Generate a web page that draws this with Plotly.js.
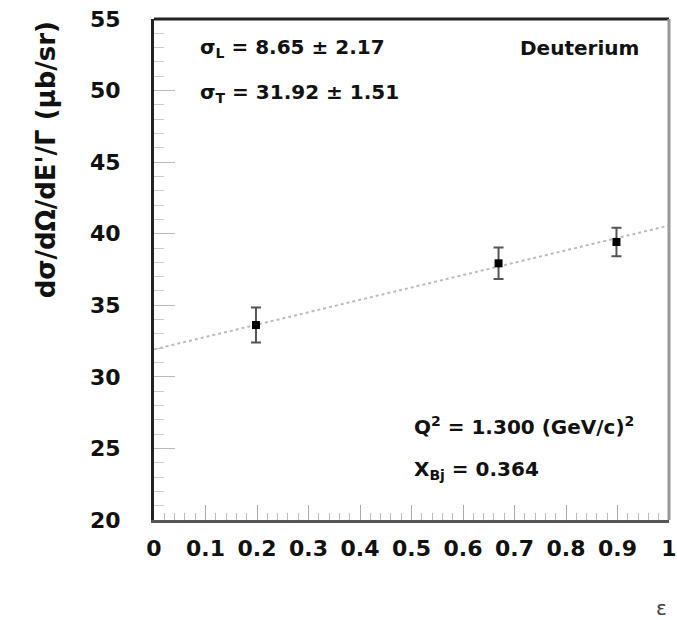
<!DOCTYPE html>
<html>
<head>
<meta charset="utf-8">
<script src="https://cdn.plot.ly/plotly-3.0.1.min.js"></script>
<style>html,body{margin:0;padding:0;background:#fff;}#chart{width:677px;height:620px;}</style>
</head>
<body>
<div id="chart"></div>
<script>
// Data
const epsilon = [0.198, 0.669, 0.898];
const sigmaRed = [33.62, 37.93, 39.42];
const sigmaErr = [1.22, 1.10, 0.99];
const fitX = [0, 1];
const fitY = [31.92, 40.57];
const xTickVals = [0, 0.1, 0.2, 0.3, 0.4, 0.5, 0.6, 0.7, 0.8, 0.9, 1];
const xTickText = ["0", "0.1", "0.2", "0.3", "0.4", "0.5", "0.6", "0.7", "0.8", "0.9", "1"];
const yTickVals = [20, 25, 30, 35, 40, 45, 50, 55];

const FONT = "DejaVu Sans, Liberation Sans, Arial, sans-serif";

const traces = [
  {
    x: fitX, y: fitY, mode: "lines", type: "scatter",
    line: {color: "#bbbbbb", width: 2, dash: "dot"},
    hoverinfo: "skip", showlegend: false
  },
  {
    x: epsilon, y: sigmaRed, mode: "markers", type: "scatter",
    marker: {symbol: "square", size: 8, color: "#000"},
    error_y: {type: "data", array: sigmaErr, visible: true, color: "#555", thickness: 2, width: 5},
    showlegend: false
  }
];

const tickFont = {family: FONT, size: 22, color: "#111", weight: "bold"};
const textFont = {family: FONT, size: 20, color: "#111", weight: "bold"};

const layout = {
  width: 677, height: 620,
  margin: {l: 154, r: 8, t: 19, b: 100},
  paper_bgcolor: "#fff", plot_bgcolor: "#fff",
  showlegend: false,
  xaxis: {
    range: [0, 1], tickvals: xTickVals, ticktext: xTickText,
    ticks: "inside", ticklen: 15, tickcolor: "#aaa", tickwidth: 1,
    minor: {dtick: 0.02, ticks: "inside", ticklen: 7, tickcolor: "#bbb", tickwidth: 1},
    showgrid: false, zeroline: false,
    showline: true, linecolor: "#555", linewidth: 3,
    tickfont: tickFont, ticklabelstandoff: 7
  },
  yaxis: {
    range: [20, 55], tickvals: yTickVals,
    ticks: "inside", ticklen: 21, tickcolor: "#bbb", tickwidth: 1,
    minor: {dtick: 1, ticks: "inside", ticklen: 10, tickcolor: "#ccc", tickwidth: 1},
    showgrid: false, zeroline: false,
    showline: true, linecolor: "#222", linewidth: 3,
    tickfont: tickFont, ticklabelstandoff: 26
  },
  shapes: [
    {type: "line", xref: "paper", yref: "paper", x0: 0, x1: 1, y0: 1, y1: 1, line: {color: "#222", width: 3}},
    {type: "line", xref: "paper", yref: "paper", x0: 1, x1: 1, y0: 0, y1: 1, line: {color: "#999", width: 3}}
  ],
  annotations: [
    {xref: "paper", yref: "paper", x: -0.21, y: 1.0, xanchor: "center", yanchor: "top",
     text: "dσ/dΩ/dE'/Γ (μb/sr)", textangle: -90, showarrow: false,
     font: {family: FONT, size: 26, color: "#111", weight: "bold"}},
    {xref: "x", yref: "y", x: 0.085, y: 53.0, xanchor: "left", yanchor: "middle",
     text: "σ<sub>L</sub> = 8.65 ± 2.17", showarrow: false, font: textFont},
    {xref: "x", yref: "y", x: 0.085, y: 49.8, xanchor: "left", yanchor: "middle",
     text: "σ<sub>T</sub> = 31.92 ± 1.51", showarrow: false, font: textFont},
    {xref: "x", yref: "y", x: 0.945, y: 53.0, xanchor: "right", yanchor: "middle",
     text: "Deuterium", showarrow: false, font: textFont},
    {xref: "x", yref: "y", x: 0.50, y: 26.6, xanchor: "left", yanchor: "middle",
     text: "Q<sup>2</sup> = 1.300 (GeV/c)<sup>2</sup>", showarrow: false, font: textFont},
    {xref: "x", yref: "y", x: 0.50, y: 23.5, xanchor: "left", yanchor: "middle",
     text: "X<sub>Bj</sub> = 0.364", showarrow: false, font: textFont},
    {xref: "paper", yref: "paper", x: 0.985, y: -0.175, xanchor: "center", yanchor: "middle",
     text: "ε", showarrow: false, font: {family: FONT, size: 20, color: "#444"}}
  ]
};

Plotly.newPlot("chart", traces, layout, {staticPlot: true, displayModeBar: false});
</script>
</body>
</html>
